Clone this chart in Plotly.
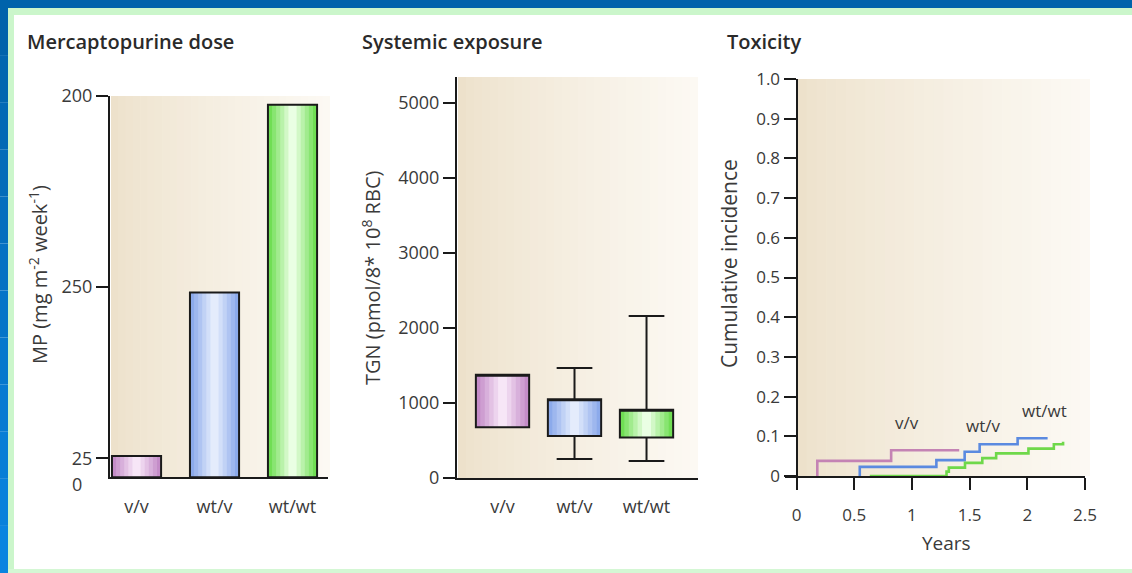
import plotly.graph_objects as go

# ---------------- data ----------------
categories = ["v/v", "wt/v", "wt/wt"]
mp_dose = [28, 242, 488]                       # MP dose (bar heights, axis units)
mp_tickvals = [25, 250, 500]
mp_ticktext = ["25", "250", "200"]

tgn_q1 = [672, 557, 536]
tgn_q3 = [1374, 1047, 906]
tgn_low = [672, 251, 222]
tgn_high = [1374, 1464, 2155]
tgn_ticks = [0, 1000, 2000, 3000, 4000, 5000]

vv_t = [0.18, 0.18, 0.82, 1.41]
vv_y = [0.0, 0.038, 0.065, 0.065]
wtv_t = [0.548, 0.548, 1.212, 1.457, 1.587, 1.916, 2.176]
wtv_y = [0.0, 0.023, 0.040, 0.061, 0.080, 0.095, 0.095]
wtwt_t = [0.635, 1.30, 1.32, 1.46, 1.61, 1.73, 2.01, 2.23, 2.31]
wtwt_y = [0.0, 0.011, 0.021, 0.033, 0.045, 0.057, 0.069, 0.080, 0.086]

tox_yticks = [0, 0.1, 0.2, 0.3, 0.4, 0.5, 0.6, 0.7, 0.8, 0.9, 1.0]
tox_yticktext = ["0", "0.1", "0.2", "0.3", "0.4", "0.5", "0.6", "0.7", "0.8", "0.9", "1.0"]
tox_xticks = [0, 0.5, 1, 1.5, 2, 2.5]
tox_xticktext = ["0", "0.5", "1", "1.5", "2", "2.5"]

# ---------------- style ----------------
W, H = 1132, 573
FONT = "Open Sans, Liberation Sans, sans-serif"
TXT = "#3a3a3a"
AX = "#1a1a1a"
edge_cols = [(196, 140, 200), (140, 170, 235), (112, 222, 84)]
center_cols = [(247, 230, 247), (228, 236, 252), (234, 255, 228)]
line_cols = ["#c483b4", "#5b8ae0", "#6fd84a"]


def fx(p):
    return p / W


def fy(p):
    return 1 - p / H


def mix(a, b, t):
    return "rgb(%d,%d,%d)" % tuple(round(a[k] + (b[k] - a[k]) * t) for k in range(3))


fig = go.Figure()

# ---- panel 1: bars with shaded fill ----
NL = 6
BW1 = 0.63
for i in range(NL):
    t = i / (NL - 1)
    fig.add_trace(go.Bar(
        x=[0, 1, 2], y=mp_dose, width=BW1 * (1 - i / NL),
        marker=dict(color=[mix(edge_cols[k], center_cols[k], t) for k in range(3)],
                    line=dict(width=0)),
        xaxis="x", yaxis="y", showlegend=False, hoverinfo="skip"))
fig.add_trace(go.Bar(
    x=[0, 1, 2], y=mp_dose, width=BW1,
    marker=dict(color="rgba(0,0,0,0)", line=dict(color=AX, width=2)),
    xaxis="x", yaxis="y", showlegend=False))

# ---- panel 2: boxes with shaded fill ----
BW2 = 0.74
span = [tgn_q3[k] - tgn_q1[k] for k in range(3)]
for i in range(NL):
    t = i / (NL - 1)
    fig.add_trace(go.Bar(
        x=[0, 1, 2], y=span, base=tgn_q1, width=BW2 * (1 - i / NL),
        marker=dict(color=[mix(edge_cols[k], center_cols[k], t) for k in range(3)],
                    line=dict(width=0)),
        xaxis="x2", yaxis="y2", showlegend=False, hoverinfo="skip"))
fig.add_trace(go.Box(
    x=[0, 1, 2], q1=tgn_q1, median=tgn_q3, q3=tgn_q3,
    lowerfence=tgn_low, upperfence=tgn_high,
    width=BW2, whiskerwidth=0.67, fillcolor="rgba(0,0,0,0)",
    line=dict(color=AX, width=2), boxpoints=False,
    xaxis="x2", yaxis="y2", showlegend=False))

# ---- panel 3: step curves ----
for tt, yy, c in [(vv_t, vv_y, line_cols[0]), (wtv_t, wtv_y, line_cols[1]),
                  (wtwt_t, wtwt_y, line_cols[2])]:
    fig.add_trace(go.Scatter(x=tt, y=yy, mode="lines", line=dict(color=c, width=2.6, shape="hv"),
                             xaxis="x3", yaxis="y3", showlegend=False))

# ---------------- shapes: frame + background gradients ----------------
shapes = []
shapes.append(dict(type="rect", xref="paper", yref="paper", x0=0, x1=1, y0=fy(8), y1=1,
                   fillcolor="#0063ab", line=dict(width=0), layer="above"))
NB = 12
for i in range(NB):
    shapes.append(dict(type="rect", xref="paper", yref="paper", x0=0, x1=fx(8),
                       y0=fy(8 + (H - 8) * (i + 1) / NB), y1=fy(8 + (H - 8) * i / NB),
                       fillcolor=mix((0, 99, 171), (10, 132, 224), i / (NB - 1)),
                       line=dict(width=0), layer="above"))
shapes.append(dict(type="rect", xref="paper", yref="paper", x0=fx(8), x1=1, y0=fy(15), y1=fy(8),
                   fillcolor="#cbf6cb", line=dict(width=0), layer="above"))
shapes.append(dict(type="rect", xref="paper", yref="paper", x0=fx(8), x1=fx(14), y0=0, y1=fy(8),
                   fillcolor="#cbf6cb", line=dict(width=0), layer="above"))
shapes.append(dict(type="rect", xref="paper", yref="paper", x0=fx(8), x1=1, y0=0, y1=fy(569),
                   fillcolor="#d4f7d4", line=dict(width=0), layer="above"))

bg_left = (237, 225, 203)
bg_right = (252, 249, 243)
NS = 30
for (x0, x1, y0, y1) in [(111, 330, 96, 477), (458, 698, 77, 478), (797, 1090, 79, 476)]:
    for i in range(NS):
        a = x0 + (x1 - x0) * i / NS
        b = x0 + (x1 - x0) * (i + 1) / NS + 0.6
        shapes.append(dict(type="rect", xref="paper", yref="paper", x0=fx(a), x1=fx(min(b, x1)),
                           y0=fy(y1), y1=fy(y0),
                           fillcolor=mix(bg_left, bg_right, (i / (NS - 1)) ** 0.8),
                           line=dict(width=0), layer="below"))

# ---------------- annotations ----------------
ann = []


def note(text, x, y, size, xanchor="center", angle=0, color=TXT, weight=None):
    f = dict(family=FONT, size=size, color=color)
    if weight:
        f["weight"] = weight
    ann.append(dict(text=text, xref="paper", yref="paper", x=fx(x), y=fy(y), xanchor=xanchor,
                    yanchor="middle", textangle=angle, showarrow=False, font=f))


for text, x in [("Mercaptopurine dose", 25), ("Systemic exposure", 360), ("Toxicity", 725)]:
    note(text, x, 42, 20, xanchor="left", color="#2a2a2a", weight=600)
note("MP (mg m<sup>-2</sup> week<sup>-1</sup>)", 38, 275, 20, angle=-90)
note("TGN (pmol/8* 10<sup>8</sup> RBC)", 371, 278, 20, angle=-90)
note("Cumulative incidence", 729, 264, 21, angle=-90)
note("Years", 946, 543, 19)
note("0", 84, 484, 18, xanchor="right")
for text, x, y in [("v/v", 0.955, 0.134), ("wt/v", 1.613, 0.128), ("wt/wt", 2.15, 0.164)]:
    ann.append(dict(text=text, xref="x3", yref="y3", x=x, y=y, showarrow=False,
                    xanchor="center", yanchor="middle",
                    font=dict(family=FONT, size=17, color=TXT)))

axline = dict(showline=True, linecolor=AX, linewidth=2, showgrid=False, zeroline=False,
              tickcolor=AX, tickwidth=2, automargin=False)
f17 = dict(family=FONT, size=17, color=TXT)
f18 = dict(family=FONT, size=18, color=TXT)

fig.update_layout(
    width=W, height=H, margin=dict(l=0, r=0, t=0, b=0, pad=0, autoexpand=False), autosize=False,
    paper_bgcolor="white", plot_bgcolor="rgba(0,0,0,0)",
    barmode="overlay", boxmode="overlay", showlegend=False,
    shapes=shapes, annotations=ann,
    xaxis=dict(domain=[fx(110), fx(328)], range=[-0.34, 2.455], anchor="y", tickfont=f18,
               tickvals=[0, 1, 2], ticktext=categories, ticks="", ticklabelstandoff=12, **axline),
    yaxis=dict(domain=[fy(477.3), fy(95.7)], range=[0, 500], anchor="x", tickfont=f18,
               tickvals=mp_tickvals, ticktext=mp_ticktext, ticks="outside", ticklen=12, **axline),
    xaxis2=dict(domain=[fx(457), fx(698)], range=[-0.632, 2.715], anchor="y2", tickfont=f18,
                tickvals=[0, 1, 2], ticktext=categories, ticks="", ticklabelstandoff=12, **axline),
    yaxis2=dict(domain=[fy(477.7), fy(77)], range=[0, 5343], anchor="x2", tickfont=f18,
                tickvals=tgn_ticks, ticks="outside", ticklen=12, **axline),
    xaxis3=dict(domain=[fx(785), fx(1085)], range=[-0.1, 2.5001], anchor="y3", tickfont=f17,
                tickvals=tox_xticks, ticktext=tox_xticktext, ticks="outside", ticklen=12,
                ticklabelstandoff=11, **axline),
    yaxis3=dict(domain=[fy(476), fy(79)], range=[0, 1.0], anchor="free", tickfont=f17,
                position=fx(796.5), tickvals=tox_yticks, ticktext=tox_yticktext,
                ticks="outside", ticklen=12, **axline),
)

post = ("document.body.style.margin='0';document.body.style.overflow='hidden';"
        "var d=document.getElementById('{plot_id}');d.style.position='absolute';"
        "d.style.left='0px';d.style.top='0px';")
fig.write_html("out.html", post_script=post, config={"displayModeBar": False})
